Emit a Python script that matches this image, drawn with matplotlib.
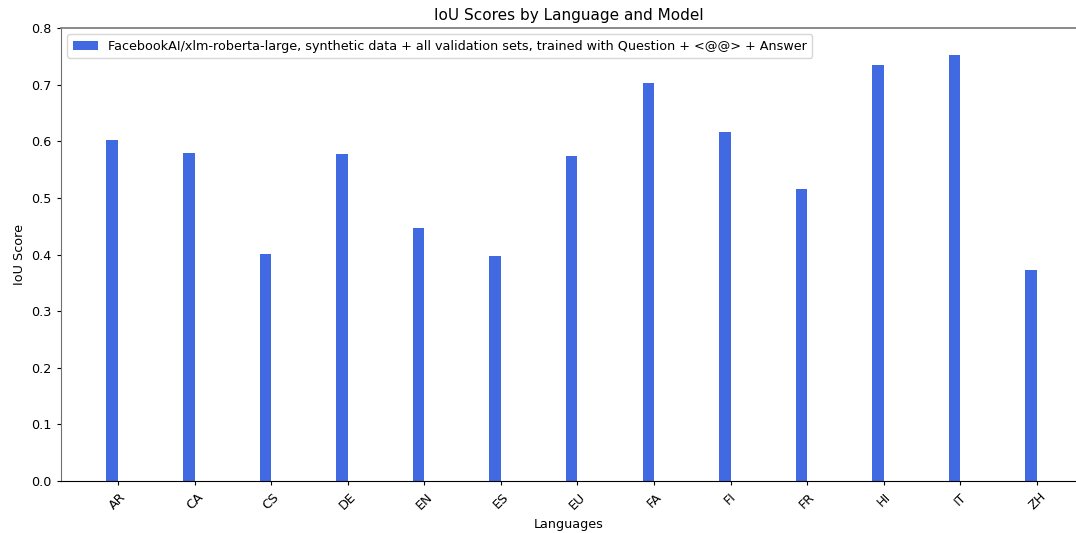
import numpy as np
import matplotlib
matplotlib.use('Agg')
import matplotlib.pyplot as plt

languages = ['AR', 'CA', 'CS', 'DE', 'EN', 'ES', 'EU', 'FA', 'FI', 'FR', 'HI', 'IT', 'ZH']
iou_scores = [0.602, 0.579, 0.401, 0.577, 0.447, 0.397, 0.574, 0.703, 0.616, 0.516, 0.735, 0.752, 0.373]
model_label = 'FacebookAI/xlm-roberta-large, synthetic data + all validation sets, trained with Question + <@@> + Answer'

plt.rcParams['font.size'] = 9.2
plt.rcParams['xtick.major.size'] = 3.2
plt.rcParams['ytick.major.size'] = 3.2

width = 0.15
x = np.arange(len(languages))

fig = plt.figure(figsize=(10.76, 5.33), dpi=100)
ax = fig.add_axes([61 / 1076, 52 / 533, 1 - 61 / 1076, 453 / 533])

ax.bar(x - width / 2, iou_scores, width, label=model_label, color='royalblue')

ax.set_xlim(-0.744, 12.51)
ax.set_ylim(0, 0.8)
ax.set_xticks(x)
ax.set_xticklabels(languages, rotation=45)
ax.set_xlabel('Languages')
ax.set_ylabel('IoU Score')
ax.set_title('IoU Scores by Language and Model', fontsize=11)

ax.spines['right'].set_visible(False)
ax.spines['top'].set_color('#808080')
ax.spines['top'].set_linewidth(1.3)
ax.spines['left'].set_color('#707070')
ax.legend(loc='upper left')

fig.savefig('out.png', dpi=100)
